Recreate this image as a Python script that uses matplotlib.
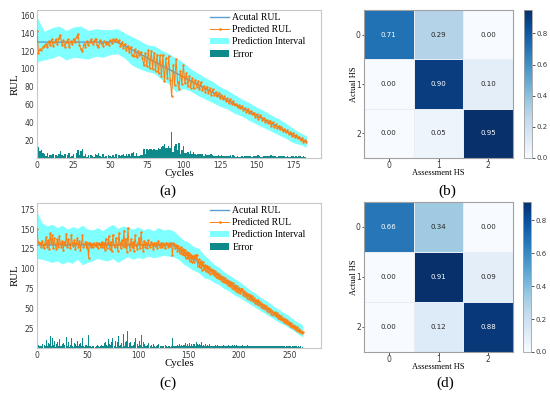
import numpy as np
import matplotlib
matplotlib.use('Agg')
import matplotlib.pyplot as plt
from matplotlib.patches import Patch
from matplotlib.lines import Line2D

# ---------------- data: panel (a) ----------------
pred_a = [143, 118, 122, 121, 124, 126, 128, 124, 131, 127,
          133, 126, 130, 133, 128, 135, 138, 127, 132, 125,
          130, 133, 124, 131, 128, 134, 130, 136, 139, 127,
          122, 120, 128, 125, 131, 127, 130, 133, 128, 131,
          134, 127, 124, 132, 129, 126, 131, 128, 130, 127,
          132, 129, 133, 131, 134, 130, 132, 126, 130, 123,
          128, 121, 126, 119, 124, 115, 114, 122, 113, 120,
          115, 119, 112, 104, 118, 103, 121, 101, 120, 100,
          118, 98, 116, 95, 115, 92, 116, 86, 112, 90,
          114, 88, 69, 104, 82, 111, 85, 77, 98, 83,
          104, 84, 95, 81, 92, 79, 90, 78, 88, 80,
          86, 77, 85, 76, 81, 74, 80, 73, 78, 71,
          77, 71, 74, 69, 73, 67, 71, 66, 69, 64,
          67, 62, 66, 61, 64, 59, 61, 57, 59, 56,
          58, 54, 56, 52, 55, 50, 53, 49, 51, 46,
          49, 44, 48, 46, 43, 45, 40, 43, 39, 42,
          36, 40, 35, 38, 34, 36, 32, 35, 30, 33,
          29, 31, 27, 29, 25, 28, 24, 26, 22, 24,
          20, 22, 18, 20, 18]
err_a = [13, 12, 8, 9, 6, 4, 2, 6, 1, 3,
         3, 4, 0, 3, 2, 5, 8, 3, 2, 5,
         0, 3, 6, 1, 2, 4, 0, 6, 9, 3,
         8, 10, 2, 5, 1, 3, 0, 3, 2, 1,
         4, 3, 6, 2, 1, 4, 1, 2, 0, 3,
         2, 1, 3, 1, 4, 0, 3, 2, 3, 4,
         2, 4, 2, 4, 2, 6, 7, 2, 6, 2,
         2, 3, 3, 10, 5, 10, 9, 10, 10, 9,
         10, 9, 9, 11, 10, 12, 13, 16, 11, 11,
         14, 11, 29, 7, 14, 16, 9, 17, 5, 9,
         13, 6, 6, 7, 5, 8, 4, 7, 4, 3,
         4, 4, 5, 4, 2, 4, 3, 3, 3, 4,
         3, 2, 2, 2, 3, 2, 3, 2, 2, 2,
         2, 2, 3, 1, 3, 2, 1, 2, 1, 1,
         2, 1, 2, 2, 2, 2, 2, 1, 2, 2,
         2, 3, 2, 1, 1, 2, 2, 2, 2, 2,
         3, 2, 2, 2, 1, 2, 2, 2, 2, 2,
         1, 2, 1, 1, 2, 2, 1, 2, 1, 2,
         2, 1, 2, 1, 0]
actual_knots_a = [0, 55, 184]
actual_rul_a = [130, 130, 18]
band_x_a = [0, 5, 10, 15, 20, 25, 30, 35, 40, 45, 50, 55, 60, 65, 70, 75, 80, 85, 90,
            95, 100, 105, 110, 115, 120, 125, 130, 135, 140, 145, 150, 155, 160, 165,
            170, 175, 180, 184]
upper_a = [158, 142, 146, 148, 143, 147, 148, 143, 145, 144, 144, 145, 140, 136, 132,
           127, 126, 121, 117, 112, 107, 100, 95, 90, 86, 80, 76, 71, 66, 62, 57, 53,
           48, 44, 39, 33, 28, 25]
lower_a = [108, 110, 112, 115, 110, 113, 112, 111, 114, 113, 116, 117, 112, 104, 100,
           97, 95, 88, 83, 74, 78, 75, 70, 66, 62, 58, 55, 50, 47, 42, 38, 34, 30, 26,
           22, 17, 15, 12]

# ---------------- data: panel (c) ----------------
pred_c = [150, 134, 132, 133, 128, 135, 130, 126, 133, 140,
          127, 136, 125, 145, 132, 142, 126, 139, 131, 125,
          138, 127, 141, 133, 128, 135, 124, 134, 130, 144,
          127, 137, 131, 126, 143, 132, 129, 136, 125, 133,
          139, 128, 135, 124, 132, 142, 127, 131, 134, 126,
          132, 114, 133, 128, 131, 127, 132, 130, 129, 133,
          126, 132, 131, 127, 134, 128, 133, 124, 138, 126,
          132, 141, 125, 134, 122, 143, 130, 127, 139, 131,
          123, 145, 132, 126, 136, 129, 148, 127, 138, 121,
          152, 131, 124, 137, 128, 134, 122, 142, 130, 125,
          133, 139, 126, 146, 131, 123, 135, 128, 133, 126,
          136, 130, 127, 134, 131, 125, 133, 129, 132, 126,
          135, 130, 128, 133, 127, 132, 130, 126, 133, 131,
          128, 132, 129, 133, 117, 132, 131, 126, 130, 123,
          129, 120, 127, 119, 125, 117, 124, 114, 121, 113,
          120, 110, 118, 109, 116, 108, 117, 113, 118, 104,
          112, 102, 110, 99, 108, 100, 105, 97, 104, 96,
          102, 94, 100, 95, 99, 92, 97, 90, 95, 88,
          93, 87, 91, 85, 89, 83, 88, 82, 86, 79,
          84, 78, 83, 76, 82, 74, 79, 72, 78, 71,
          76, 70, 74, 75, 67, 72, 66, 70, 63, 68,
          62, 67, 60, 65, 59, 63, 57, 61, 55, 60,
          54, 58, 52, 56, 50, 54, 49, 53, 47, 51,
          45, 49, 43, 47, 42, 45, 40, 44, 38, 42,
          36, 40, 35, 38, 33, 37, 32, 35, 30, 33,
          28, 31, 27, 29, 25, 28, 23, 26, 22, 24,
          20, 22, 19, 20]
err_c = [20, 4, 2, 3, 2, 5, 0, 4, 3, 10,
         3, 6, 5, 15, 2, 12, 4, 9, 1, 5,
         8, 3, 11, 3, 2, 5, 6, 4, 0, 14,
         3, 7, 1, 4, 13, 2, 1, 6, 5, 3,
         9, 2, 5, 6, 2, 12, 3, 1, 4, 4,
         2, 16, 3, 2, 1, 3, 2, 0, 1, 3,
         4, 2, 1, 3, 4, 2, 3, 6, 8, 4,
         2, 11, 5, 4, 8, 13, 0, 3, 9, 1,
         7, 15, 2, 4, 6, 1, 18, 3, 8, 9,
         22, 1, 6, 7, 2, 4, 8, 12, 0, 5,
         3, 9, 4, 16, 1, 7, 5, 2, 3, 4,
         6, 0, 3, 4, 1, 5, 3, 1, 2, 4,
         5, 0, 2, 3, 3, 2, 0, 4, 3, 1,
         2, 2, 1, 3, 13, 2, 2, 2, 3, 4,
         3, 5, 3, 4, 3, 4, 4, 6, 2, 5,
         3, 6, 3, 5, 3, 5, 5, 2, 8, 5,
         4, 5, 4, 7, 3, 4, 2, 5, 3, 4,
         2, 5, 2, 2, 3, 3, 3, 4, 2, 4,
         2, 3, 2, 3, 2, 4, 2, 3, 2, 4,
         2, 3, 3, 4, 3, 4, 2, 4, 3, 3,
         3, 3, 2, 4, 3, 3, 2, 3, 4, 2,
         3, 3, 3, 3, 2, 3, 3, 2, 3, 3,
         2, 3, 2, 3, 3, 2, 2, 3, 2, 3,
         2, 3, 3, 2, 2, 2, 2, 3, 2, 3,
         3, 2, 2, 2, 2, 3, 1, 2, 2, 2,
         2, 2, 1, 2, 2, 2, 2, 2, 1, 2,
         1, 2, 0, 1]
actual_knots_c = [0, 135, 263]
actual_rul_c = [130, 130, 19]
band_x_c = [0, 5, 10, 15, 20, 25, 30, 35, 40, 45, 50, 55, 60, 65, 70, 75, 80, 85, 90,
            95, 100, 105, 110, 115, 120, 125, 130, 135, 140, 145, 150, 155, 160, 165,
            170, 175, 180, 185, 190, 195, 200, 205, 210, 215, 220, 225, 230, 235, 240,
            245, 250, 255, 260, 263]
upper_c = [172, 158, 154, 156, 152, 155, 150, 153, 151, 155, 150, 149, 152, 148, 153,
           156, 151, 154, 152, 150, 153, 149, 151, 148, 152, 149, 150, 148, 142, 136,
           133, 128, 126, 118, 112, 106, 102, 96, 92, 88, 84, 79, 74, 70, 65, 61, 57,
           52, 48, 44, 40, 35, 31, 29]
lower_c = [113, 112, 110, 108, 110, 106, 109, 107, 112, 105, 108, 110, 113, 111, 110,
           113, 108, 112, 115, 112, 114, 113, 116, 114, 115, 117, 116, 115, 112, 106,
           102, 98, 95, 89, 87, 83, 80, 75, 72, 67, 64, 60, 56, 52, 48, 44, 40, 36, 32,
           29, 25, 21, 16, 14]

# ---------------- data: confusion matrices ----------------
hs_labels = ['0', '1', '2']
cm_b = [[0.71, 0.29, 0.00],
        [0.00, 0.90, 0.10],
        [0.00, 0.05, 0.95]]
cm_d = [[0.66, 0.34, 0.00],
        [0.00, 0.91, 0.09],
        [0.00, 0.12, 0.88]]

SERIF = 'Liberation Serif'
TICK_COLOR = '#3a3a3a'
SPINE_COLOR = '#c8c8c8'


def draw_rul(ax, pred, err, knots, actual, band_x, upper, lower, xlim, ylim, yticks, xticks):
    cycles = np.arange(len(pred))
    ax.fill_between(band_x, lower, upper, color='#00ffff', alpha=0.5, lw=0, zorder=1)
    ax.bar(cycles, err, width=1.0, color='#0f8a8a', zorder=2)
    ax.plot(knots, actual, color='#5a9fd4', lw=1.0, zorder=3)
    ax.plot(cycles, pred, color='#ff7f0e', lw=0.7, marker='.', ms=1.5, zorder=4)
    ax.set_xlim(*xlim)
    ax.set_ylim(*ylim)
    ax.set_xticks(xticks)
    ax.set_yticks(yticks)
    ax.tick_params(length=0, labelsize=5.5, colors=TICK_COLOR, pad=2)
    for s in ax.spines.values():
        s.set_color(SPINE_COLOR)
        s.set_linewidth(0.8)
    ax.set_xlabel('Cycles', fontfamily=SERIF, fontsize=7.8, va='center')
    ax.xaxis.set_label_coords(0.5, -0.105)
    ax.set_ylabel('RUL', fontfamily=SERIF, fontsize=7.8, va='center')
    ax.yaxis.set_label_coords(-0.076, 0.5)
    handles = [Line2D([], [], color='#5a9fd4', lw=1.0),
               Line2D([], [], color='#ff7f0e', lw=0.7, marker='.', ms=1.8),
               Patch(facecolor='#7fffff', edgecolor='none'),
               Patch(facecolor='#0f8a8a', edgecolor='none')]
    labels = ['Acutal RUL', 'Predicted RUL', 'Prediction Interval', 'Error']
    ax.legend(handles, labels, loc='upper left', bbox_to_anchor=(0.599, 1.0),
              frameon=False, prop={'family': SERIF, 'size': 7},
              labelspacing=0.33, handlelength=2.0, handletextpad=0.3,
              borderpad=0.3, borderaxespad=0)


def draw_cm(ax, cax, cm):
    cm = np.array(cm)
    mesh = ax.pcolormesh(cm, cmap='Blues', vmin=0, vmax=cm.max(),
                         edgecolors='#e8eef5', linewidth=0.4)
    ax.set_xlim(0, 3)
    ax.set_ylim(3, 0)
    for i in range(3):
        for j in range(3):
            v = cm[i, j]
            ax.text(j + 0.5, i + 0.5, f'{v:.2f}', ha='center', va='center',
                    fontsize=5, color='white' if v > 0.5 else '#262626')
    ax.set_xticks([0.5, 1.5, 2.5])
    ax.set_yticks([0.5, 1.5, 2.5])
    ax.set_xticklabels(hs_labels)
    ax.set_yticklabels(hs_labels)
    ax.tick_params(length=1.8, width=0.6, labelsize=5.5, colors=TICK_COLOR, pad=0.5)
    for s in ax.spines.values():
        s.set_color('#a0a0a0')
        s.set_linewidth(0.8)
    ax.set_xlabel('Assessment HS', fontfamily=SERIF, fontsize=6, va='center')
    ax.xaxis.set_label_coords(0.5, -0.10)
    ax.set_ylabel('Actual HS', fontfamily=SERIF, fontsize=6, va='center')
    ax.yaxis.set_label_coords(-0.07, 0.5)
    cb = plt.colorbar(mesh, cax=cax)
    cb.set_ticks([0.0, 0.2, 0.4, 0.6, 0.8])
    cb.ax.tick_params(length=2, width=0.6, labelsize=5, colors=TICK_COLOR, pad=1)
    cb.outline.set_edgecolor('#a0a0a0')
    cb.outline.set_linewidth(0.6)


W, H = 550, 396
fig = plt.figure(figsize=(W / 100, H / 100), dpi=100)


def box(x0, y0, x1, y1):
    return [x0 / W, 1 - y1 / H, (x1 - x0) / W, (y1 - y0) / H]


ax_a = fig.add_axes(box(37, 10, 321, 158))
ax_b = fig.add_axes(box(364, 10, 513, 158))
cax_b = fig.add_axes(box(524, 10, 532, 158))
ax_c = fig.add_axes(box(37, 203, 321, 348))
ax_d = fig.add_axes(box(364, 202, 513, 352))
cax_d = fig.add_axes(box(523, 202, 531, 352))

draw_rul(ax_a, pred_a, err_a, actual_knots_a, actual_rul_a, band_x_a, upper_a, lower_a,
         (0, 194), (0, 166), [20, 40, 60, 80, 100, 120, 140, 160],
         [0, 25, 50, 75, 100, 125, 150, 175])
draw_rul(ax_c, pred_c, err_c, actual_knots_c, actual_rul_c, band_x_c, upper_c, lower_c,
         (0, 281), (0, 183), [25, 50, 75, 100, 125, 150, 175],
         [0, 50, 100, 150, 200, 250])
draw_cm(ax_b, cax_b, cm_b)
draw_cm(ax_d, cax_d, cm_d)

for lbl, x, y in [('(a)', 168, 191), ('(b)', 447, 191), ('(c)', 168, 383), ('(d)', 445, 383)]:
    fig.text(x / W, 1 - y / H, lbl, ha='center', va='center', fontfamily=SERIF, fontsize=11)

fig.savefig('out.png', dpi=100)
plt.close()
